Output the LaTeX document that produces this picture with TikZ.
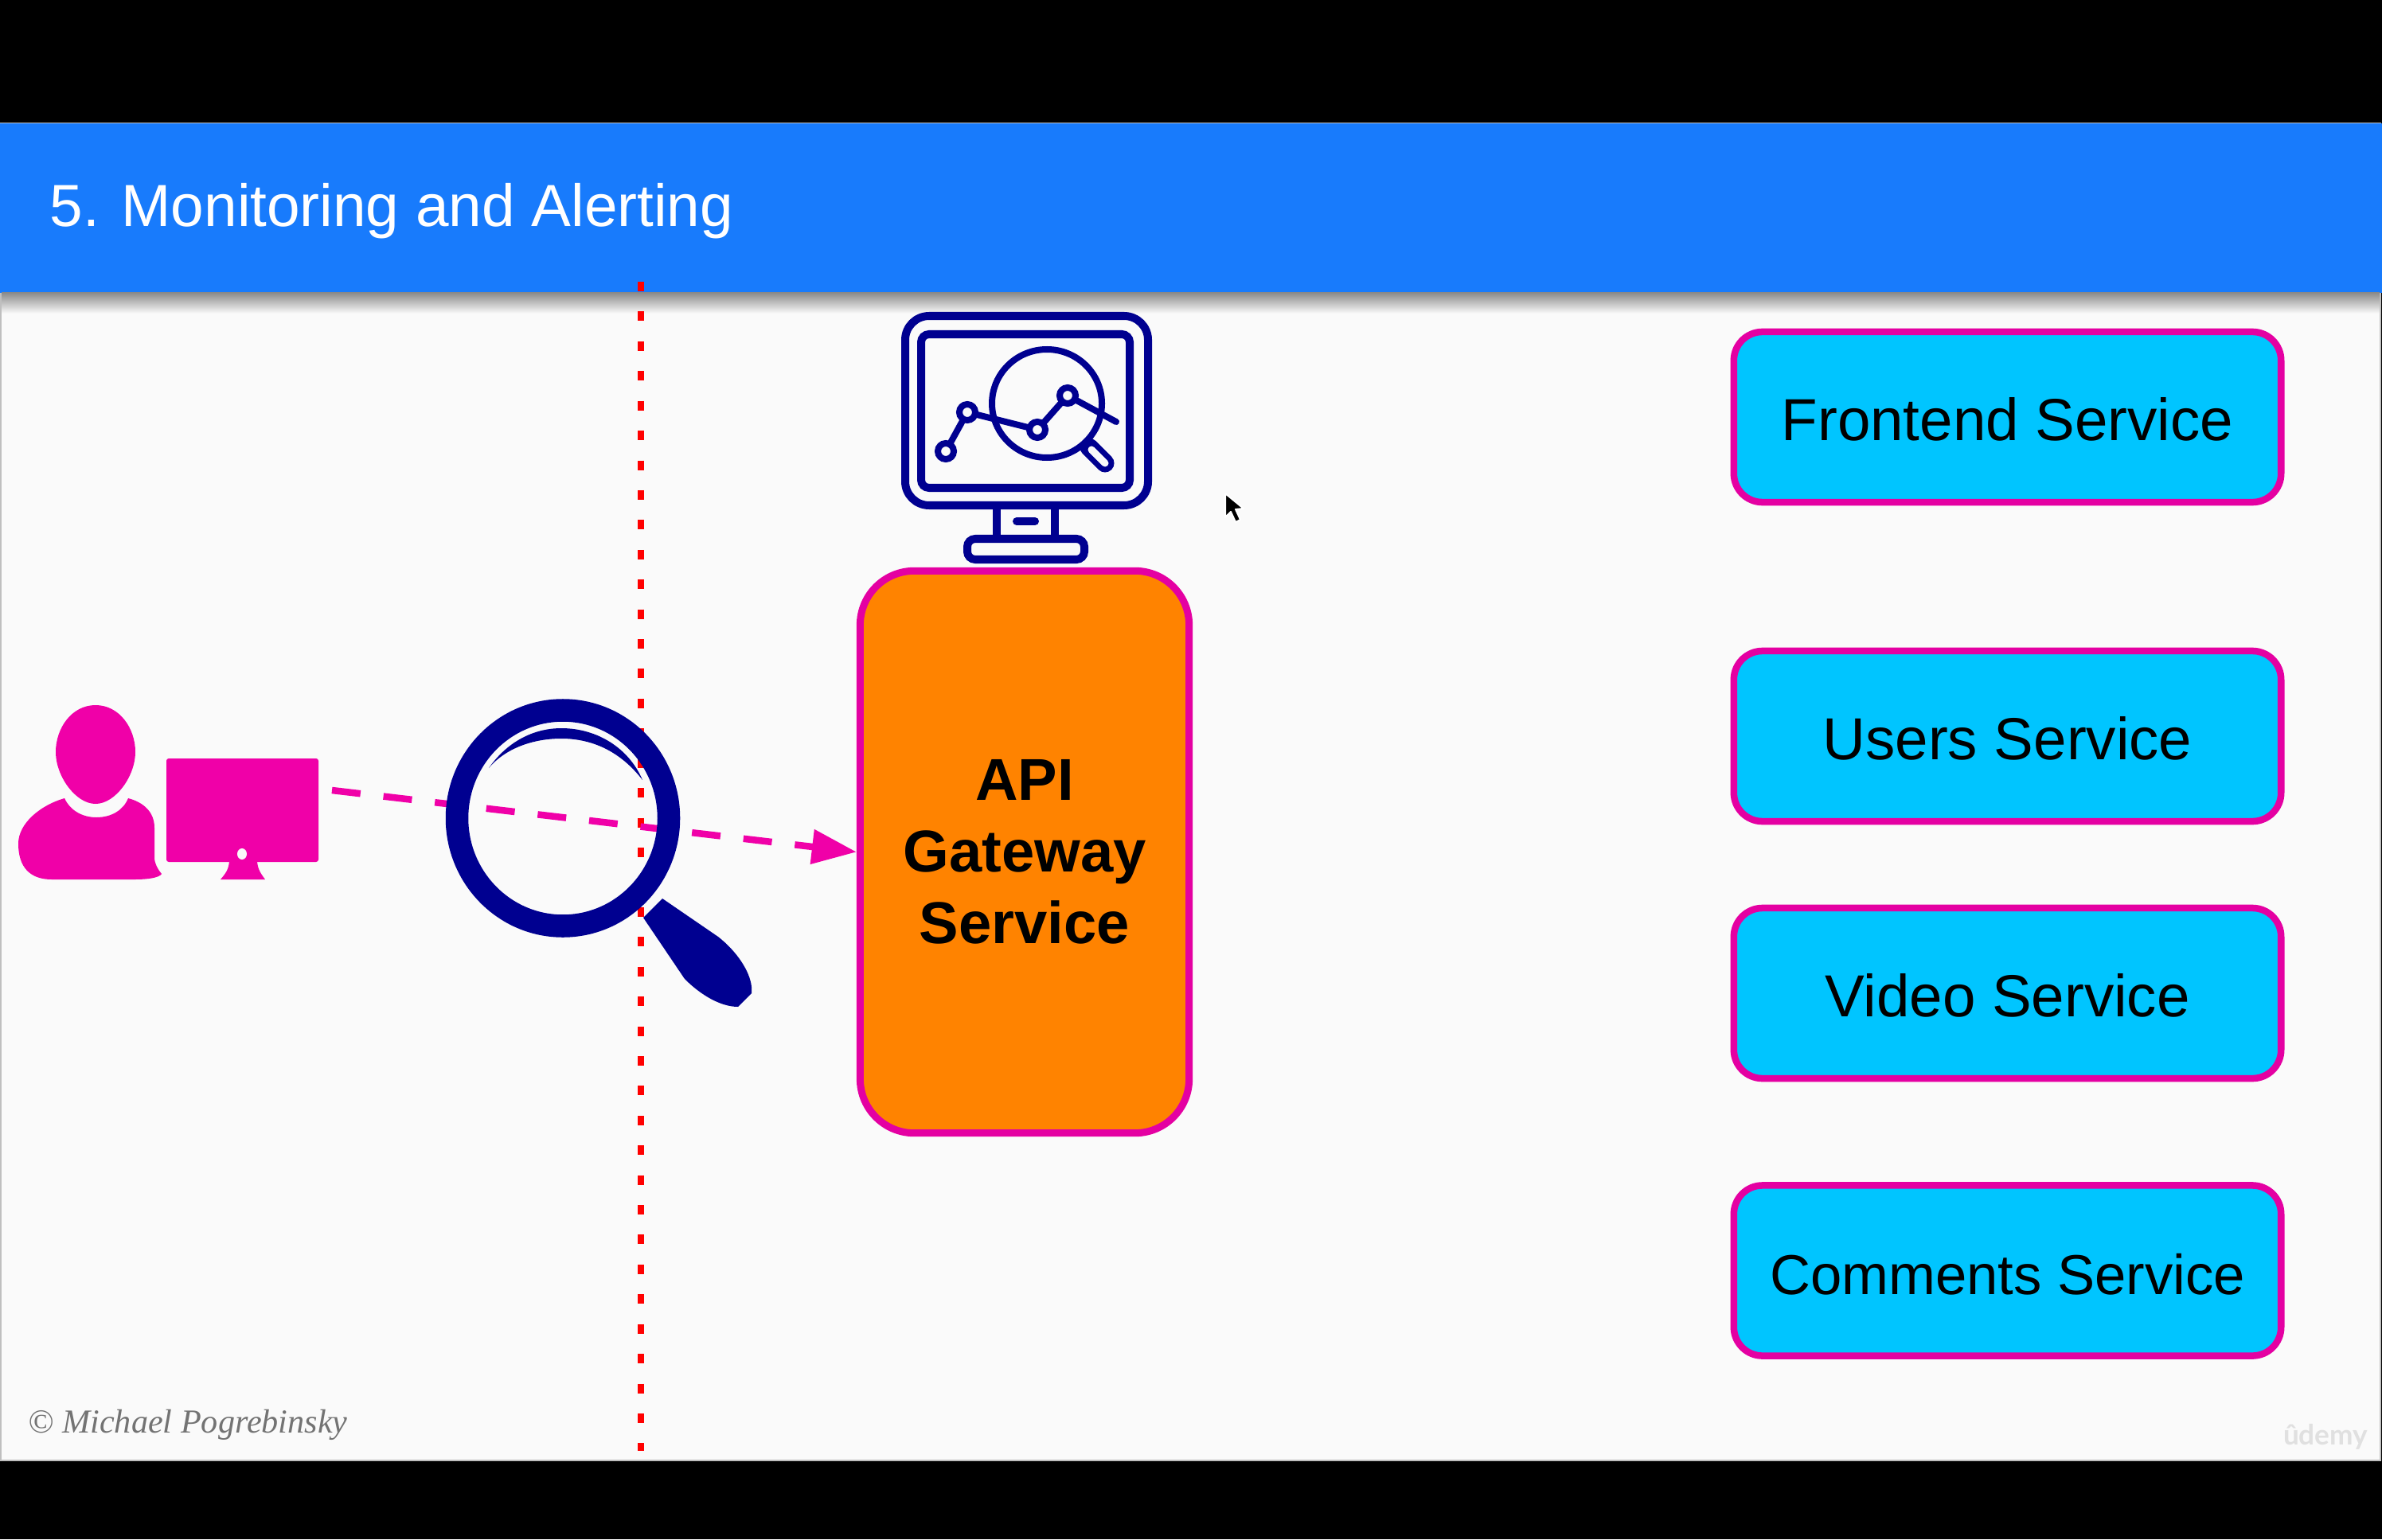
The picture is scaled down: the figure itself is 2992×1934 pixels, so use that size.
\documentclass[tikz,border=0pt]{standalone}
\usepackage{fontspec}
\setmainfont{Liberation Sans}
\newfontfamily\creditfont{Liberation Serif}
\newfontfamily\markfont{Lato}
\usetikzlibrary{arrows.meta}
\definecolor{pagebg}{HTML}{FAFAFA}
\definecolor{bandblue}{HTML}{187BFC}
\definecolor{edgepink}{HTML}{E400A2}
\definecolor{iconpink}{HTML}{F000A8}
\definecolor{iconnavy}{HTML}{000090}
\definecolor{servicecyan}{HTML}{00C5FF}
\definecolor{gatewayorange}{HTML}{FF8300}
\tikzset{
  servicebox/.style={draw=edgepink, fill=servicecyan, line width=0.085cm, rounded corners=0.36cm,
    minimum width=6.87cm, minimum height=2.14cm, inner sep=0pt, text height=0.59cm, text depth=0pt,
    font=\fontsize{21.2}{25.6}\selectfont},
  gatewaybox/.style={draw=edgepink, fill=gatewayorange, line width=0.09cm, rounded corners=0.68cm,
    minimum width=4.13cm, minimum height=7.06cm, inner sep=0pt, align=center,
    font=\fontsize{21.1}{25.6}\selectfont\bfseries},
  navyline/.style={draw=iconnavy, line width=0.1cm},
  chartdot/.style={draw=iconnavy, fill=pagebg, line width=0.08cm},
  callarrow/.style={draw=iconpink, line width=0.085cm, dash pattern=on 0.36cm off 0.29cm,
    -{Triangle[length=0.56cm,width=0.42cm,fill=iconpink,sep=0pt]}},
  borderdots/.style={draw=red, line width=0.085cm, dash pattern=on 0.12cm off 0.254cm}
}
\begin{document}
\begin{tikzpicture}[x=0.01cm, y=-0.01cm]
\useasboundingbox (0,0) rectangle (2992,1934);
\fill [black] (0,0) rectangle (2992,1934);
\draw [fill=pagebg, draw=lightgray, line width=0.02cm] (1,155) rectangle (2990,1835);
\fill [bandblue] (0,155) rectangle (2992,368);
\shade [top color=black!45, bottom color=pagebg] (2,368) rectangle (2989,394);
\node (title) [anchor=base west, inner sep=0pt, text=white, font=\fontsize{21.25}{25}\selectfont] at (62,285) {5. Monitoring and Alerting};
\coordinate (dottop) at (805,354);
\coordinate (dotbottom) at (805,1823);
\draw [borderdots] (dottop) to (dotbottom);
%user at the desk
\fill [iconpink] (120,886) .. controls (150,886) and (170,915) .. (170,945) .. controls (170,975) and (145,1010) .. (120,1010) .. controls (95,1010) and (70,975) .. (70,945) .. controls (70,915) and (90,886) .. (120,886);
\fill [iconpink] (81,1003) .. controls (88,1018) and (103,1027) .. (121,1027) .. controls (140,1027) and (155,1018) .. (161,1003) .. controls (180,1008) and (194,1020) .. (194,1040) to (194,1077) .. controls (194,1085) and (198,1092) .. (203,1098) .. controls (200,1103) and (185,1105) .. (170,1105) to (65,1105) .. controls (38,1105) and (23,1090) .. (23,1060) .. controls (23,1035) and (50,1012) .. (81,1003);
\fill [iconpink, rounded corners=0.03cm] (209,953) rectangle (400,1083);
\fill [iconpink] (288,1080) to (323,1080) .. controls (323,1092) and (328,1098) .. (333,1105) to (277,1105) .. controls (283,1098) and (288,1092) .. (288,1080);
\fill [pagebg] (304,1073) ellipse [x radius=6, y radius=7];
\node (gateway) [gatewaybox] at (1287,1070.5) {API\\Gateway\\Service};
\coordinate (deskright) at (417,993);
\draw [callarrow] (deskright) to (gateway.west);
%magnifier
\fill [iconnavy] (832,1129) to (902,1177) .. controls (925,1195) and (942,1220) .. (944,1240) to (944,1248) to (927,1265) .. controls (905,1265) and (880,1250) .. (860,1230) to (808,1153) to (832,1129);
\draw [iconnavy, line width=0.285cm] (707,1028) ellipse [x radius=133, y radius=135.5];
\fill [iconnavy] (614,965) .. controls (640,928) and (675,915) .. (705,915) .. controls (750,915) and (790,940) .. (807,980) .. controls (780,945) and (745,928) .. (705,928) .. controls (670,928) and (635,940) .. (614,965);
%dashboard monitor
\draw [navyline, rounded corners=0.3cm] (1137,397) rectangle (1442,635);
\draw [navyline, rounded corners=0.1cm] (1157,420) rectangle (1419,613);
\draw [navyline] (1252,635) to (1252,677);
\draw [navyline] (1325,635) to (1325,677);
\draw [navyline, line cap=round] (1277,655) to (1300,655);
\draw [navyline, rounded corners=0.1cm] (1215,677) rectangle (1362,703);
\draw [iconnavy, line width=0.23cm, line cap=round] (1368,562) to (1388,582);
\draw [pagebg, line width=0.09cm, line cap=round] (1371,565) to (1388,582);
\draw [iconnavy, line width=0.08cm] (1315,507) ellipse [x radius=69, y radius=68];
\draw [iconnavy, line width=0.08cm, line cap=round] (1188,567) to (1215,518) to (1303,540) to (1341,497) to (1402,530);
\draw [chartdot] (1188,567) circle [radius=10];
\draw [chartdot] (1215,518) circle [radius=10];
\draw [chartdot] (1303,540) circle [radius=10];
\draw [chartdot] (1341,497) circle [radius=10];
%services
\node (frontend) [servicebox] at (2521.5,524) {Frontend Service};
\node (users) [servicebox] at (2521.5,925) {Users Service};
\node (video) [servicebox] at (2521.5,1248) {Video Service};
\node (comments) [servicebox, font=\fontsize{20.1}{25.6}\selectfont] at (2521.5,1596.5) {Comments Service};
\node (credit) [anchor=base west, inner sep=0pt, text=black!55, font=\creditfont\itshape\fontsize{12}{14}\selectfont] at (35,1800) {© Michael Pogrebinsky};
\node (watermark) [inner sep=0pt, text=black!12, font=\markfont\bfseries\fontsize{10}{14}\selectfont] at (2921,1805) {ûdemy};
\draw [fill=black, draw=white, line width=0.02cm, line join=round] (1539,620) to (1539,650) to (1546,643) to (1552,656) to (1558,653) to (1552,640) to (1562,639) to (1539,620);
\end{tikzpicture}
\end{document}
